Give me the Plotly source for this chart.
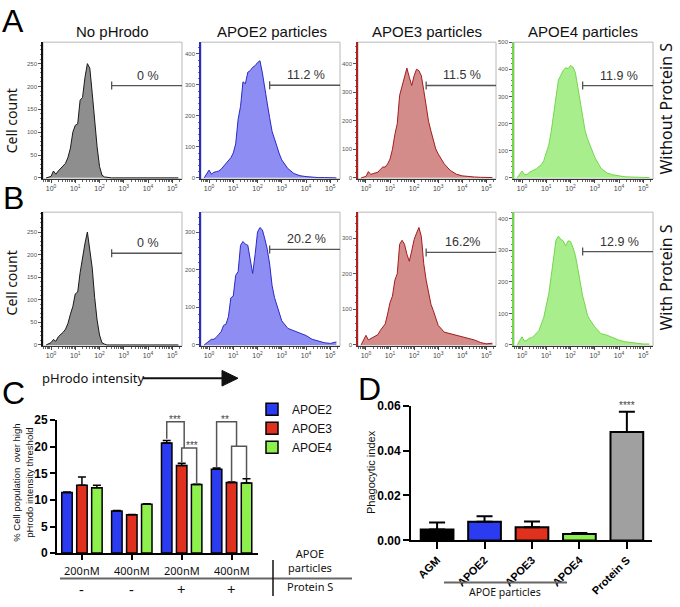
import numpy as np
import plotly.graph_objects as go

W, H = 680, 607

# ---- histogram data (A: without Protein S, B: with Protein S) ----
log_intensity = [-0.2, 0.0, 0.1, 0.2, 0.3, 0.4, 0.5, 0.6, 0.7, 0.8, 0.9, 1.0, 1.1, 1.2, 1.3,
                 1.4, 1.5, 1.6, 1.7, 1.8, 1.9, 2.0, 2.1, 2.2, 2.3, 2.4, 2.5, 2.6, 2.7, 2.8,
                 2.9, 3.0, 3.25, 3.5, 3.75, 4.0, 4.25, 4.5, 4.75, 5.0, 5.25]

a_no_phrodo = [0, 3, 15, 8, 15, 20, 25, 32, 45, 65, 100, 115, 118, 170, 176, 220, 250, 240,
               185, 125, 68, 25, 6, 2, 1, 0, 0, 0, 0, 0, 0, 0, 0, 0, 0, 0, 0, 0, 0, 0, 0]
a_apoe2 = [0, 25, 12, 18, 20, 22, 28, 38, 45, 55, 65, 80, 110, 189, 231, 310, 304, 341, 346,
           357, 362, 372, 378, 339, 283, 241, 194, 150, 126, 100, 77, 58, 30, 14, 7, 4, 2, 1, 1, 0, 0]
a_apoe3 = [0, 5, 22, 12, 15, 18, 20, 30, 38, 38, 49, 66, 100, 152, 190, 290, 324, 360, 385,
           353, 324, 358, 381, 376, 358, 307, 255, 198, 164, 135, 101, 84, 49, 26, 13, 7, 4, 3, 2, 1, 1]
a_apoe4 = [0, 25, 12, 12, 20, 24, 30, 34, 42, 48, 64, 90, 120, 168, 228, 306, 360, 378, 396,
           406, 402, 414, 408, 388, 330, 276, 216, 174, 144, 120, 96, 76, 36, 18, 11, 7, 4, 3, 2, 2, 1]

b_no_phrodo = [0, 5, 12, 8, 18, 22, 28, 35, 48, 68, 85, 113, 117, 160, 195, 225, 250, 215,
               170, 105, 55, 22, 5, 2, 0, 0, 0, 0, 0, 0, 0, 0, 0, 0, 0, 0, 0, 0, 0, 0, 0]
b_apoe2 = [0, 10, 15, 15, 20, 28, 35, 52, 55, 75, 125, 130, 185, 195, 265, 275, 268, 265, 225,
           190, 240, 300, 312, 306, 282, 255, 215, 158, 126, 104, 82, 64, 44, 37, 30, 25, 15, 10, 6, 4, 8]
b_apoe3 = [0, 27, 14, 18, 23, 27, 29, 41, 52, 59, 87, 119, 137, 182, 200, 283, 294, 283, 255,
           235, 264, 296, 314, 330, 305, 228, 182, 146, 114, 96, 73, 55, 36, 32, 27, 23, 18, 14, 7, 3, 5]
b_apoe4 = [0, 26, 12, 15, 21, 23, 29, 36, 46, 67, 88, 125, 160, 216, 283, 332, 345, 335, 330,
           314, 330, 328, 309, 284, 242, 191, 155, 126, 93, 80, 67, 57, 36, 31, 23, 15, 10, 7, 5, 3, 3]

hist_titles = ["No pHrodo", "APOE2 particles", "APOE3 particles", "APOE4 particles"]
pct_a = ["0 %", "11.2 %", "11.5 %", "11.9 %"]
pct_b = ["0 %", "20.2 %", "16.2%", "12.9 %"]
gate_log = 2.5

# ---- panel C ----
c_doses = ["200nM", "400nM", "200nM", "400nM"]
c_protein_s = ["-", "-", "+", "+"]
c_apoe2 = [11.4, 7.9, 20.7, 15.8]
c_apoe2_err = [0.1, 0.1, 0.5, 0.2]
c_apoe3 = [12.75, 7.2, 16.5, 13.3]
c_apoe3_err = [1.55, 0.05, 0.4, 0.1]
c_apoe4 = [12.3, 9.2, 12.9, 13.2]
c_apoe4_err = [0.45, 0.1, 0.05, 0.8]

# ---- panel D ----
d_labels = ["AGM", "APOE2", "APOE3", "APOE4", "Protein S"]
d_index = [0.0048, 0.0083, 0.0059, 0.0028, 0.0483]
d_err = [0.0032, 0.0025, 0.0025, 0.0005, 0.009]

BLUE, RED, GREEN, GREY = "#2b3cf0", "#e0301e", "#8ef04c", "#a0a0a0"
ARIAL = "Liberation Sans"
MYRIAD = "Noto Sans"


def px_x(x):
    return x / W


def px_y(y):
    return 1 - y / H


fig = go.Figure()
layout = {}
shapes = []
annotations = []


def note(text, x, y, size, family=ARIAL, color="#111", angle=0, xanchor="center", **kw):
    # text placed in page pixels
    annotations.append(dict(text=text, x=px_x(x), y=px_y(y), xref="paper", yref="paper",
                            xanchor=xanchor, yanchor="middle", textangle=angle,
                            showarrow=False, font=dict(size=size, family=family, color=color),
                            **kw))


hist_styles = {
    "grey": ("#8e8e8e", "#1a1a1a", "#111111"),
    "blue": ("#8d8df3", "#2a2ac8", "#2a2ac8"),
    "red": ("#d48c8a", "#a11d1d", "#b01e1e"),
    "green": ("#a9ee8c", "#74d64c", "#74d64c"),
}
col_px = [(43, 182), (201, 340), (358, 496), (514, 653)]
row_px = [(36, 176), (210, 347)]
hists = [
    (a_no_phrodo, 0, 0, "grey", 297, 50, 202, pct_a[0]),
    (a_apoe2, 0, 1, "blue", 438, 100, 299, pct_a[1]),
    (a_apoe3, 0, 2, "red", 476, 100, 324, pct_a[2]),
    (a_apoe4, 0, 3, "green", 500, 100, 340, pct_a[3]),
    (b_no_phrodo, 1, 0, "grey", 294, 50, 203, pct_b[0]),
    (b_apoe2, 1, 1, "blue", 353, 100, 254, pct_b[1]),
    (b_apoe3, 1, 2, "red", 373, 100, 260, pct_b[2]),
    (b_apoe4, 1, 3, "green", 421, 100, 296, pct_b[3]),
]
xr = [-0.33, 5.4]
minor_log = [np.log10(m) + d for d in range(-1, 6) for m in range(2, 10)]
minor_log = [v for v in minor_log if xr[0] <= v <= xr[1]]

for i, (counts, r, c, sty, ytop, dt, gate_y, pct) in enumerate(hists, start=1):
    sfx = "" if i == 1 else str(i)
    fill, line, axc = hist_styles[sty]
    fig.add_trace(go.Scatter(x=log_intensity, y=counts, mode="lines", fill="tozeroy",
                             fillcolor=fill, line=dict(color=line, width=1),
                             xaxis="x" + sfx, yaxis="y" + sfx, showlegend=False,
                             hoverinfo="skip"))
    layout["xaxis" + sfx] = dict(
        domain=[px_x(col_px[c][0]), px_x(col_px[c][1])], anchor="y" + sfx, range=xr,
        tickvals=[0, 1, 2, 3, 4, 5], ticktext=["10<sup>%d</sup>" % k for k in range(6)],
        tickfont=dict(size=7, color="#444", family=ARIAL), ticks="outside", ticklen=3,
        tickcolor="#444", showline=True, linecolor="#333", linewidth=1,
        showgrid=False, zeroline=False,
        minor=dict(tickvals=minor_log, ticks="outside", ticklen=2, tickcolor="#666"))
    layout["yaxis" + sfx] = dict(
        domain=[px_y(row_px[r][1]), px_y(row_px[r][0])], anchor="x" + sfx,
        range=[-ytop * 0.008, ytop], dtick=dt,
        tickfont=dict(size=6, color="#555", family=ARIAL), ticks="outside", ticklen=3,
        tickcolor="#555", showline=True, linecolor=axc, linewidth=1.5,
        showgrid=False, zeroline=False,
        minor=dict(dtick=dt / 5, ticks="outside", ticklen=1.5, tickcolor="#777"))
    shapes.append(dict(type="rect", xref="x%s domain" % sfx, yref="y%s domain" % sfx,
                       x0=0, x1=1, y0=0, y1=1, line=dict(color="#b8b8b8", width=1),
                       layer="below"))
    shapes.append(dict(type="line", xref="x" + sfx, yref="y" + sfx, x0=gate_log, x1=xr[1],
                       y0=gate_y, y1=gate_y, line=dict(color="#555", width=1.3)))
    shapes.append(dict(type="line", xref="x" + sfx, yref="y" + sfx, ysizemode="pixel",
                       yanchor=gate_y, y0=-4, y1=4, x0=gate_log, x1=gate_log,
                       line=dict(color="#555", width=1.3)))
    annotations.append(dict(text=pct, xref="x" + sfx, yref="y" + sfx, x=4.0, y=gate_y,
                            xanchor="center", yanchor="bottom", yshift=1, showarrow=False,
                            font=dict(size=12.5, family=ARIAL, color="#333")))

col_centers = [112, 272, 427, 583]
for t, cx in zip(hist_titles, col_centers):
    note(t, cx, 25, 15)
note("Without Protein S", 666, 104, 16, MYRIAD, angle=-90)
note("With Protein S", 666, 277, 16, MYRIAD, angle=-90)
for cy in [117, 283]:
    note("Cell count", 11, cy, 14, MYRIAD, angle=-90)
for t, lx, ly in [("A", 13, 14), ("B", 13, 196), ("C", 13, 395), ("D", 369, 391)]:
    note(t, lx, ly, 32, color="#000")

note("pHrodo intensity", 40, 380, 13, MYRIAD, xanchor="left")
shapes.append(dict(type="line", xref="paper", yref="paper", x0=px_x(143), x1=px_x(224),
                   y0=px_y(380), y1=px_y(380), line=dict(color="#111", width=2)))
shapes.append(dict(type="path", xref="paper", yref="paper", fillcolor="#111",
                   line=dict(color="#111", width=1),
                   path="M%f,%f L%f,%f L%f,%f Z" % (px_x(222), px_y(372), px_x(238), px_y(380),
                                                    px_x(222), px_y(388))))

# ---- panel C: grouped bars ----
c_offsets = [-0.3, 0.0, 0.3]
groups = list(range(len(c_doses)))
for name, vals, errs, colr, off in [("APOE2", c_apoe2, c_apoe2_err, BLUE, c_offsets[0]),
                                    ("APOE3", c_apoe3, c_apoe3_err, RED, c_offsets[1]),
                                    ("APOE4", c_apoe4, c_apoe4_err, GREEN, c_offsets[2])]:
    fig.add_trace(go.Bar(x=[g + off for g in groups], y=vals, width=0.21, name=name,
                         marker=dict(color=colr, line=dict(color="#000", width=1.5)),
                         error_y=dict(type="data", array=errs, arrayminus=[0] * len(errs),
                                      symmetric=False, color="#000", thickness=1.5, width=4),
                         xaxis="x9", yaxis="y9"))

layout["xaxis9"] = dict(domain=[px_x(57), px_x(258)], anchor="y9", range=[-0.5, 3.53],
                        tickvals=groups, showticklabels=False, ticks="outside", ticklen=5,
                        tickwidth=2, tickcolor="#000", showline=True, linecolor="#000",
                        linewidth=2, showgrid=False, zeroline=False)
layout["yaxis9"] = dict(domain=[px_y(559), px_y(423)], anchor="x9", range=[0, 25], dtick=5,
                        tickfont=dict(size=12, family=ARIAL, color="#000", weight="bold"),
                        ticks="outside", ticklen=5, tickwidth=2, tickcolor="#000",
                        showline=True, linecolor="#000", linewidth=2, showgrid=False,
                        zeroline=False)


def top(vals, errs, k):
    return vals[k] + errs[k]


# significance brackets: (x_left, x_right, y_left, y_right, level)
brackets = [
    (2 + c_offsets[0], 2.05, top(c_apoe2, c_apoe2_err, 2) + 0.3, 19.8, 24.7),
    (2 + c_offsets[1], 2 + c_offsets[2], top(c_apoe3, c_apoe3_err, 2) + 0.2,
     top(c_apoe4, c_apoe4_err, 2) + 0.1, 19.8),
    (3 + c_offsets[0], 3.1, top(c_apoe2, c_apoe2_err, 3) + 0.1, 20.1, 24.7),
    (3 + c_offsets[1], 3 + c_offsets[2], top(c_apoe3, c_apoe3_err, 3) + 0.1,
     top(c_apoe4, c_apoe4_err, 3) + 0.1, 20.1),
]
for x0, x1, y0, y1, lev in brackets:
    shapes.append(dict(type="path", xref="x9", yref="y9",
                       path="M%f,%f L%f,%f L%f,%f L%f,%f" % (x0, y0, x0, lev, x1, lev, x1, y1),
                       line=dict(color="#555", width=1.5)))
for t, sx, sy in [("***", 1.87, 24.7), ("***", 2.2, 19.8), ("**", 2.87, 24.7)]:
    annotations.append(dict(text=t, x=sx, y=sy, xref="x9", yref="y9", xanchor="center",
                            yanchor="middle", yshift=2, showarrow=False,
                            font=dict(size=10, family=ARIAL, color="#444444")))

for g, dose, ps in zip(groups, c_doses, c_protein_s):
    annotations.append(dict(text=dose, x=g, y=px_y(577), xref="x9", yref="paper",
                            xanchor="center", yanchor="middle", showarrow=False,
                            font=dict(size=11, family=MYRIAD, color="#111")))
    annotations.append(dict(text=ps, x=g, y=px_y(596), xref="x9", yref="paper",
                            xanchor="center", yanchor="middle", showarrow=False,
                            font=dict(size=15, family=MYRIAD, color="#111")))
note("APOE<br>particles", 310, 567, 11, MYRIAD)
note("Protein S", 310, 593, 11, MYRIAD)
shapes.append(dict(type="line", xref="paper", yref="paper", x0=px_x(60), x1=px_x(352),
                   y0=px_y(585), y1=px_y(585), line=dict(color="#666", width=2)))
shapes.append(dict(type="line", xref="paper", yref="paper", x0=px_x(273), x1=px_x(273),
                   y0=px_y(566), y1=px_y(603), line=dict(color="#111", width=1.5)))
note("% Cell population  over high<br>pHrodo intensity threshold", 23, 487, 9.5, angle=-90)

# ---- panel D ----
fig.add_trace(go.Bar(x=d_labels, y=d_index, width=0.69, showlegend=False,
                     marker=dict(color=["#000000", BLUE, RED, GREEN, GREY],
                                 line=dict(color="#000", width=2)),
                     error_y=dict(type="data", array=d_err, arrayminus=[0] * len(d_err),
                                  symmetric=False, color="#000", thickness=2, width=8),
                     xaxis="x10", yaxis="y10"))
layout["xaxis10"] = dict(domain=[px_x(411), px_x(652)], anchor="y10", range=[-0.55, 4.53],
                         tickangle=-45,
                         tickfont=dict(size=11, family=ARIAL, color="#000", weight="bold"),
                         ticks="outside", ticklen=7, tickwidth=2, tickcolor="#000",
                         showline=True, linecolor="#000", linewidth=2, showgrid=False,
                         zeroline=False)
layout["yaxis10"] = dict(domain=[px_y(546), px_y(408)], anchor="x10", range=[0, 0.06],
                         tickvals=[0, 0.02, 0.04, 0.06], tickformat=".2f",
                         tickfont=dict(size=12, family=ARIAL, color="#000", weight="bold"),
                         ticks="outside", ticklen=6, tickwidth=2, tickcolor="#000",
                         showline=True, linecolor="#000", linewidth=2, showgrid=False,
                         zeroline=False)
annotations.append(dict(text="****", x=4, y=0.06, xref="x10", yref="y10", xanchor="center",
                        yanchor="middle", showarrow=False,
                        font=dict(size=10, family=ARIAL, color="#444444")))
note("Phagocytic index", 371, 476, 11, angle=-90)
shapes.append(dict(type="line", xref="paper", yref="paper", x0=px_x(444), x1=px_x(567),
                   y0=px_y(589), y1=px_y(589), line=dict(color="#666", width=2)))
note("APOE particles", 505, 599, 10.5, MYRIAD)

fig.update_layout(
    width=W, height=H, margin=dict(l=0, r=0, t=0, b=0),
    paper_bgcolor="white", plot_bgcolor="white", barmode="overlay",
    showlegend=True,
    legend=dict(x=px_x(252), y=px_y(397), xanchor="left", yanchor="top",
                font=dict(size=12, family=ARIAL, color="#111"), bgcolor="rgba(0,0,0,0)",
                tracegroupgap=0),
    shapes=shapes, annotations=annotations, **layout)

fig.write_html("out.html", config={"displayModeBar": False},
               post_script="document.body.style.margin='0px';")
